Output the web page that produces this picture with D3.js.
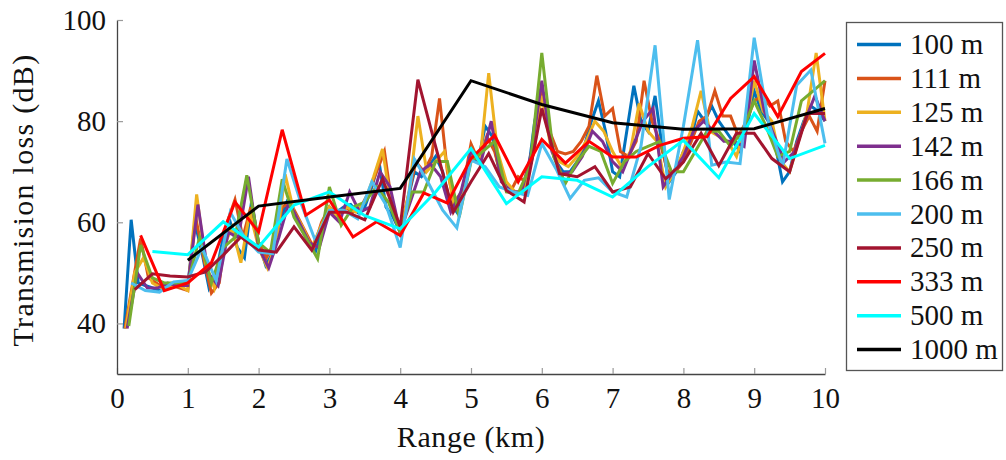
<!DOCTYPE html>
<html>
<head>
<meta charset="utf-8">
<script src="https://cdn.jsdelivr.net/npm/d3@7"></script>
<style>
  html, body { margin: 0; padding: 0; background: #fff; }
  svg { display: block; }
</style>
</head>
<body>
<svg id="chart" width="1006" height="460"></svg>
<script>
const FONT = "Liberation Serif, DejaVu Serif, Noto Serif, serif";

// Sampling resolution of each run (m) and legend labels
const resolutions = [100, 111.111, 125, 142.857, 166.667, 200, 250, 333.333, 500, 1000];
const labels = ["100 m", "111 m", "125 m", "142 m", "166 m", "200 m", "250 m", "333 m", "500 m", "1000 m"];
const colors = ["#0072BD", "#D95319", "#EDB120", "#7E2F8E", "#77AC30", "#4DBEEE", "#A2142F", "#FF0000", "#00FFFF", "#000000"];

const xTicks = [0, 1, 2, 3, 4, 5, 6, 7, 8, 9, 10];
const yTicks = [40, 60, 80, 100];

// Transmission loss (dB), one value per range sample (sample k is at k * resolution)
const tl100 = [
  39, 60.5, 48, 47.5, 47, 46.5, 47.5, 48, 48, 47.5,
  60, 54, 47, 50, 57, 60, 55, 53, 64, 56,
  51.5, 54, 60, 64, 62, 59, 56, 54, 59, 63,
  62, 63, 63.5, 62, 63, 67, 72, 63, 61, 58,
  64, 70, 69, 71, 73, 70, 64, 62, 68, 73,
  72, 79, 77, 70, 67, 66, 66, 69, 80, 86,
  78, 72, 70, 70, 72, 75, 80, 84, 78, 70,
  69, 78, 87, 80, 78, 85, 75, 68, 70, 74,
  76, 82, 80, 83, 80, 78, 76, 74, 79, 86,
  82, 80, 75, 68, 70, 76, 80, 83, 82, 80
];
const tl111 = [
  39, 48, 56.8, 49, 48, 47, 47.5, 47, 46.5, 61,
  53, 46, 48, 60, 64.5, 57, 63, 56, 53, 56,
  63, 64, 61, 58, 55, 60, 63, 61, 63, 62,
  63, 66, 70, 74, 63, 58, 65, 72, 70, 73,
  84.5, 70, 63, 67, 75.5, 72, 77, 74, 68, 66,
  69, 68, 74, 86, 78, 74, 73.5, 74, 76, 79,
  89, 81, 82.5, 74, 73, 76, 88, 80, 76, 70,
  70, 72, 76, 80, 81, 86, 81, 81, 77, 80,
  84, 85, 83, 84, 76, 74, 78, 81, 78, 88
];
const tl125 = [
  39, 50, 53, 48, 47, 47, 47.5, 46.5, 65.5, 52,
  47, 55, 59, 52, 62, 55, 51, 56, 69.5, 62,
  59, 55, 59, 63, 61, 63, 62, 64, 69, 74.5,
  63, 58, 66, 81, 70, 72, 74, 64, 66, 74,
  72, 89.5, 74, 68, 66, 66, 75, 85, 75, 72,
  71, 73, 76, 80, 78, 74, 71, 74, 83.5, 78,
  76, 67, 70, 74, 79, 86, 78, 77, 76, 73,
  79, 88, 82, 80, 72, 70, 76, 82, 93.5, 80
];
const tl142 = [
  39, 50, 47, 47, 48, 47.5, 47.5, 63.5, 50, 47.5,
  58, 57, 69, 55, 51, 57, 64, 60, 56, 55,
  62, 60, 66, 62, 63, 70, 67, 58, 64, 70,
  71.5, 69, 62, 66, 74, 72, 80, 68, 66, 66,
  74, 88, 74, 69.5, 70, 73, 78, 76, 72, 70,
  75, 80, 82.5, 67, 70, 73, 78, 80, 78, 76,
  76, 75, 92, 82, 77, 72, 74, 80, 85, 80
];
const tl166 = [
  39.5, 55.5, 49, 48, 48, 48, 57, 48, 55, 57,
  69.3, 56, 54, 68.5, 61, 57, 52.8, 67, 59.4, 63,
  64, 67, 64, 58, 66, 66, 72, 72, 61, 72,
  74, 76, 66, 65.7, 71, 93.5, 73, 67.7, 72, 75,
  74, 67.7, 72, 74, 75, 76, 70, 70, 74, 78,
  78, 75, 78, 84, 79, 73, 74, 84, 86, 88
];
const tl200 = [
  48.0, 46.5, 46.2, 48.2, 48.5, 55.0, 48.5, 62.0, 57.0, 54.1,
  53.8, 72.5, 63.7, 56.4, 62.4, 62.4, 60.7, 68.0, 63.4, 55.0,
  72.5, 67.7, 62.4, 58.9, 72.3, 71.0, 67.0, 66.0, 65.3, 75.6,
  70.6, 64.7, 68.3, 68.8, 66.0, 65.0, 75.0, 95.0, 64.5, 79.0,
  96.0, 71.3, 71.9, 71.6, 96.5, 79.9, 71.0, 87.1, 90.1, 75.6
];
const tl250 = [
  46.7, 49.8, 49.4, 49.2, 50.2, 53.5, 57.1, 54.5, 54.1, 59.1,
  54.5, 62.0, 62.0, 60.5, 68.6, 59.1, 88.2, 75.0, 62.0, 68.0,
  73.6, 66.3, 64.0, 82.5, 69.6, 69.0, 71.0, 66.0, 67.0, 73.6,
  68.6, 71.9, 77.6, 71.2, 77.6, 77.6, 72.6, 70.0, 81.5, 81.5
];
const tl333 = [
  57.4, 46.5, 48.0, 52.0, 64.0, 58.1, 78.3, 61.4, 64.4, 57.1,
  60.1, 57.4, 65.8, 63.8, 72.6, 77.2, 68.0, 76.4, 71.7, 76.0,
  72.9, 72.9, 75.2, 76.6, 76.9, 84.5, 88.8, 80.9, 89.8, 93.4
];
const tl500 = [
  54.2, 53.6, 60.1, 55.1, 63.4, 66.0, 61.3, 58.7, 66.0, 74.6,
  63.7, 69.0, 68.3, 65.0, 71.0, 76.2, 68.8, 81.5, 72.6, 75.2
];
const tl1000 = [52.5, 63.2, 65.0, 66.7, 88.0, 83.3, 79.7, 78.4, 78.5, 82.5];

const seriesValues = [tl100, tl111, tl125, tl142, tl166, tl200, tl250, tl333, tl500, tl1000];

const svg = d3.select("#chart");

const x = d3.scaleLinear().domain([0, 10]).range([117, 825]);
const y = d3.scaleLinear().domain([30, 100]).range([374, 20]);

// Series lines, finest resolution drawn first
const line = d3.line()
  .x(d => x(d.km))
  .y(d => y(d.tl));

const plot = svg.append("g");
seriesValues.forEach((vals, s) => {
  const stepKm = resolutions[s] / 1000;
  const pts = vals.map((v, i) => ({ km: (i + 1) * stepKm, tl: v }));
  plot.append("path")
    .datum(pts)
    .attr("d", line)
    .attr("fill", "none")
    .attr("stroke", colors[s])
    .attr("stroke-width", 3)
    .attr("stroke-linejoin", "miter")
    .attr("stroke-miterlimit", 4);
});

// Axes: inward ticks, left and bottom only
const xAxis = d3.axisBottom(x).tickValues(xTicks).tickFormat(d3.format("d"))
  .tickSizeInner(-6).tickSizeOuter(0).tickPadding(13.5);
const yAxis = d3.axisLeft(y).tickValues(yTicks).tickFormat(d3.format("d"))
  .tickSizeInner(-6).tickSizeOuter(0).tickPadding(11);

const gx = svg.append("g").attr("transform", "translate(0,374)").call(xAxis);
const gy = svg.append("g").attr("transform", "translate(117,0)").call(yAxis);

[gx, gy].forEach(g => {
  g.attr("font-family", FONT).attr("font-size", 29);
  g.select(".domain").attr("stroke", "#444").attr("stroke-width", 1.3);
  g.selectAll(".tick line").attr("stroke", "#9a9a9a").attr("stroke-width", 1.2);
  g.selectAll(".tick text")
    .attr("font-family", FONT)
    .attr("font-size", 29)
    .attr("fill", "#111");
});

// Axis titles
svg.append("text")
  .attr("x", 471).attr("y", 447)
  .attr("text-anchor", "middle")
  .attr("font-family", FONT)
  .attr("font-size", 30)
  .attr("letter-spacing", 0.6)
  .attr("fill", "#111")
  .text("Range (km)");

svg.append("text")
  .attr("transform", "translate(33,200) rotate(-90)")
  .attr("text-anchor", "middle")
  .attr("font-family", FONT)
  .attr("font-size", 30)
  .attr("letter-spacing", 1.3)
  .attr("fill", "#111")
  .text("Transmision loss (dB)");

// Legend
const legend = svg.append("g");
legend.append("rect")
  .attr("x", 846.5).attr("y", 22.5)
  .attr("width", 156).attr("height", 348)
  .attr("fill", "#fff")
  .attr("stroke", "#555")
  .attr("stroke-width", 1.3);

labels.forEach((lab, i) => {
  const ly = 44.5 + i * 33.9;
  legend.append("line")
    .attr("x1", 857).attr("x2", 901)
    .attr("y1", ly).attr("y2", ly)
    .attr("stroke", colors[i])
    .attr("stroke-width", 3.5);
  legend.append("text")
    .attr("x", 910).attr("y", ly + 9.5)
    .attr("font-family", FONT)
    .attr("font-size", 29)
    .attr("fill", "#111")
    .text(lab);
});
</script>
</body>
</html>
